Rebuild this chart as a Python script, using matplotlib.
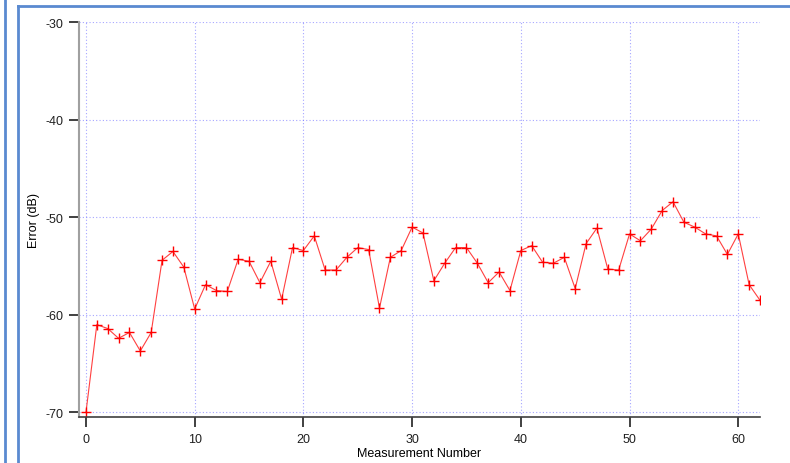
import matplotlib.pyplot as plt
from matplotlib.lines import Line2D

measurement = list(range(63))
error_db = [
    -70.0, -61.0, -61.4, -62.4, -61.8, -63.7, -61.8, -54.4, -53.5, -55.1,
    -59.4, -56.9, -57.5, -57.6, -54.3, -54.5, -56.7, -54.5, -58.4, -53.1,
    -53.4, -51.9, -55.4, -55.4, -54.1, -53.1, -53.3, -59.3, -54.1, -53.4,
    -51.0, -51.6, -56.5, -54.7, -53.1, -53.1, -54.7, -56.7, -55.6, -57.5,
    -53.4, -52.9, -54.6, -54.7, -54.1, -57.3, -52.7, -51.1, -55.3, -55.4,
    -51.7, -52.4, -51.2, -49.3, -48.4, -50.5, -51.0, -51.7, -51.9, -53.8,
    -51.7, -56.9, -58.5,
]
x_ticks = [0, 10, 20, 30, 40, 50, 60]
y_ticks = [-70, -60, -50, -40, -30]

plt.rcParams["font.family"] = ["Liberation Sans", "DejaVu Sans"]
plt.rcParams["axes.unicode_minus"] = False

fig = plt.figure(figsize=(7.9, 4.64), dpi=100)
ax = fig.add_axes([79 / 790, 1 - 418.3 / 464, 681 / 790, 395 / 464])

ax.plot(measurement, error_db, color="#ff4040", linewidth=0.8,
        marker="+", markersize=7, markeredgewidth=1.0, markeredgecolor="#ff0000")

ax.set_xlim(-0.64, 62)
ax.set_ylim(-70.5, -30)
ax.set_xticks(x_ticks)
ax.set_yticks(y_ticks)
ax.grid(True, color="#6a6aff", linestyle=(0, (1, 2)), linewidth=0.8, alpha=0.6)

for side in ["top", "right"]:
    ax.spines[side].set_visible(False)
ax.spines["left"].set_color("#a0a0a0")
ax.spines["left"].set_linewidth(1.5)
ax.spines["bottom"].set_color("#404040")
ax.spines["bottom"].set_linewidth(1.2)
ax.tick_params(axis="both", direction="out", length=7, width=1.2,
               labelsize=9, colors="#202020", pad=4)

ax.set_xlabel("Measurement Number", fontsize=9, labelpad=2)
ax.set_ylabel("Error (dB)", fontsize=9, labelpad=4)

# window frame around the chart
frame = "#5a8ad0"
fig.add_artist(Line2D([5 / 790, 5 / 790], [0, 1], color=frame, lw=2, transform=fig.transFigure))
fig.add_artist(Line2D([18 / 790, 18 / 790], [0, 1 - 7 / 464], color=frame, lw=2, transform=fig.transFigure))
fig.add_artist(Line2D([18 / 790, 1], [1 - 7 / 464, 1 - 7 / 464], color=frame, lw=2, transform=fig.transFigure))

fig.savefig("out.png", dpi=100)
